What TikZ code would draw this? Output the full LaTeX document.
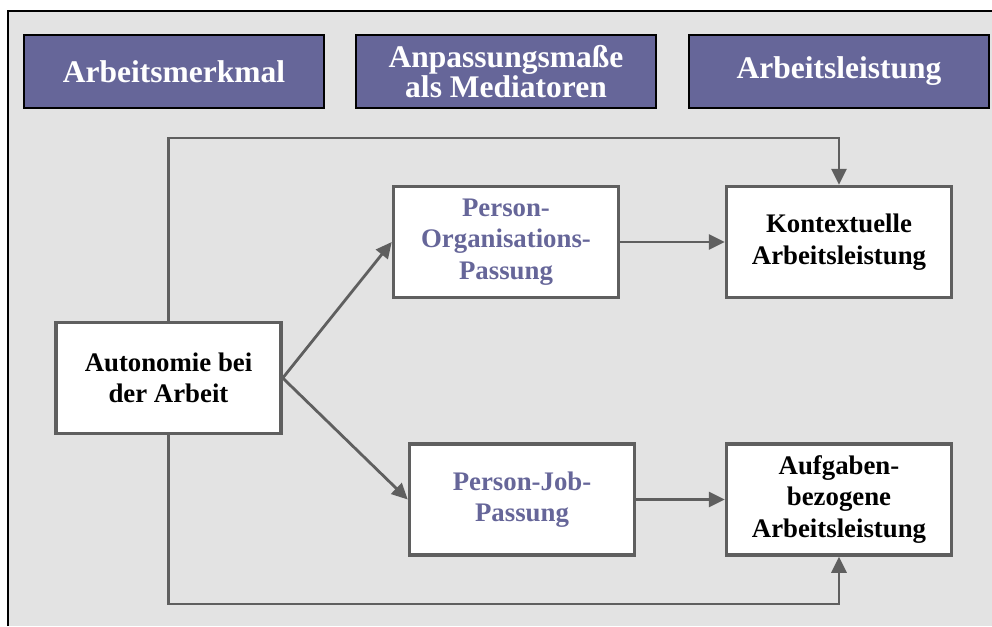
\documentclass[tikz,border=0pt]{standalone}
\usepackage{xcolor}
\usepackage{fontspec}
\setmainfont{Liberation Serif}
\usepackage{tikz}
\usetikzlibrary{arrows.meta}
\usetikzlibrary{positioning}

\definecolor{hdrfill}{HTML}{666699}
\definecolor{linegray}{HTML}{5F5F5F}
\definecolor{bggray}{HTML}{E3E3E3}

\tikzset{
    hdrbox/.style={draw=black, line width=1.8pt, fill=hdrfill, text=white, font=\fontsize{31.5}{25.5}\selectfont\bfseries, align=center, minimum width=300, minimum height=73, inner sep=0pt},
    varbox/.style={draw=linegray, line width=3.5pt, fill=white, font=\fontsize{26.8}{31.5}\selectfont\bfseries, align=center, minimum width=225, minimum height=111, inner sep=0pt},
    medbox/.style={varbox, text=hdrfill},
    conn/.style={draw=linegray, line width=2.8pt, -{Triangle[length=16pt,width=15pt]}}
}

\begin{document}
\begin{tikzpicture}[x=1pt,y=-1pt]
            \useasboundingbox (0,0) rectangle (992,626);
            \fill[bggray] (8,11) rectangle (992,626);
            \draw[black, line width=2.5pt] (8,626) -- (8,11) -- (992,11);
            \node[hdrbox] at (174,71.5) (hdr1) {Arbeitsmerkmal};
            \node[hdrbox] at (506,71.5) (hdr2) {Anpassungsmaße\\als Mediatoren};
            \node[hdrbox] at (839,71.5) (hdr3) {Arbeitsleistung};
            \node[varbox] at (168.5,378) (auto) {Autonomie bei\\der Arbeit};
            \node[medbox] at (506,242) (po) {Person-\\Organisations-\\Passung};
            \node[medbox] at (522,499.5) (pj) {Person-Job-\\Passung};
            \node[varbox] at (839,242) (kon) {Kontextuelle\\Arbeitsleistung};
            \node[varbox] at (839,499.5) (auf) {Aufgaben-\\bezogene\\Arbeitsleistung};
            \coordinate (toprail) at (170,138);
            \coordinate (botrail) at (170,604);
            \draw[conn] (auto.east) -- (po.west);
            \draw[conn] (auto.east) -- (pj.west);
            \draw[conn] (po.east) -- (kon.west);
            \draw[conn] (pj.east) -- (auf.west);
            \draw[conn] (auto.north) |- (toprail) -| (kon.north);
            \draw[conn] (auto.south) |- (botrail) -| (auf.south);
        \end{tikzpicture}
\end{document}
